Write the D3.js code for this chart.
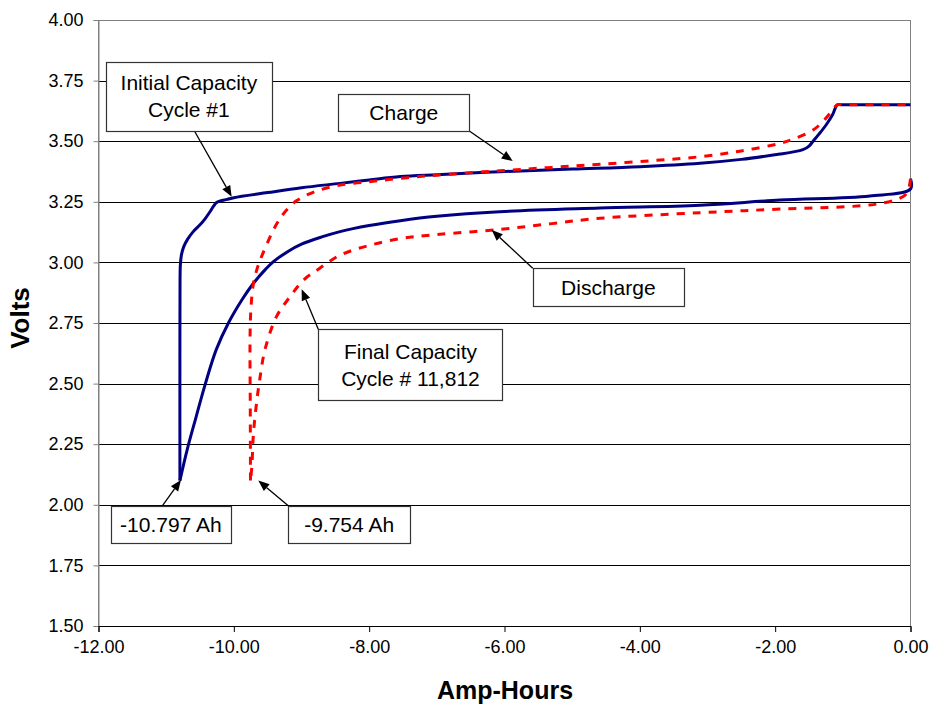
<!DOCTYPE html>
<html>
<head>
<meta charset="utf-8">
<script src="https://cdn.jsdelivr.net/npm/d3@7"></script>
<style>
  html, body { margin: 0; padding: 0; background: #fff; }
  svg { display: block; }
  text { font-family: "Liberation Sans", Arial, sans-serif; }
</style>
</head>
<body>
<svg id="chart" width="929" height="706"></svg>
<script>
// ---------------- DATA ----------------
const xTicks = [-12, -10, -8, -6, -4, -2, 0];
const yTicks = [1.5, 1.75, 2.0, 2.25, 2.5, 2.75, 3.0, 3.25, 3.5, 3.75, 4.0];

// Initial capacity (cycle #1) – charge curve [Ah, V]
const initialCharge = [
  [-10.797, 2.10], [-10.797, 2.60], [-10.795, 2.93], [-10.79, 2.99], [-10.775, 3.03],
  [-10.74, 3.065], [-10.68, 3.097], [-10.60, 3.127], [-10.50, 3.155], [-10.42, 3.182],
  [-10.35, 3.21], [-10.30, 3.232], [-10.26, 3.246], [-10.20, 3.254], [-10.10, 3.26],
  [-10.0, 3.267], [-9.5, 3.288], [-9.0, 3.308], [-8.43, 3.326], [-8.0, 3.340],
  [-7.54, 3.354], [-7.0, 3.362], [-6.07, 3.374], [-5.0, 3.385], [-4.0, 3.395],
  [-3.11, 3.409], [-2.5, 3.425], [-1.93, 3.447], [-1.75, 3.455], [-1.59, 3.465],
  [-1.50, 3.48], [-1.44, 3.50], [-1.35, 3.53], [-1.24, 3.57], [-1.15, 3.61],
  [-1.08, 3.65], [-1.0, 3.65], [-0.9, 3.65], [-0.5, 3.65], [0, 3.65]
];
// Initial capacity (cycle #1) – discharge curve [Ah, V]
const initialDischarge = [
  [0, 3.345], [0, 3.303], [-0.6, 3.274], [-1.93, 3.257], [-3.11, 3.236],
  [-4.59, 3.224], [-6.07, 3.209], [-7.0, 3.19], [-7.54, 3.172], [-8.0, 3.152],
  [-8.43, 3.127], [-8.7, 3.105], [-9.0, 3.075], [-9.2, 3.045], [-9.415, 3.003],
  [-9.56, 2.963], [-9.71, 2.914], [-9.87, 2.85], [-10.08, 2.75], [-10.26, 2.64],
  [-10.42, 2.50], [-10.56, 2.36], [-10.69, 2.227], [-10.797, 2.10]
];
// Final capacity (cycle #11,812) – charge curve [Ah, V]
const finalCharge = [
  [-9.754, 2.10], [-9.757, 2.40], [-9.76, 2.70], [-9.745, 2.82], [-9.71, 2.914],
  [-9.66, 2.97], [-9.61, 3.01], [-9.52, 3.07], [-9.415, 3.134], [-9.32, 3.18],
  [-9.22, 3.216], [-9.07, 3.255], [-8.82, 3.29], [-8.45, 3.318], [-8.0, 3.333],
  [-7.54, 3.347], [-7.0, 3.36], [-6.07, 3.378], [-5.3, 3.392], [-4.59, 3.405],
  [-3.8, 3.42], [-3.11, 3.436], [-2.5, 3.46], [-1.93, 3.491], [-1.74, 3.508],
  [-1.44, 3.546], [-1.30, 3.58], [-1.19, 3.615], [-1.08, 3.65], [-1.0, 3.65],
  [-0.9, 3.65], [-0.5, 3.65], [0, 3.65]
];
// Final capacity (cycle #11,812) – discharge curve [Ah, V]
const finalDischarge = [
  [0, 3.345], [-0.03, 3.30], [-0.08, 3.278], [-0.23, 3.257], [-0.60, 3.237],
  [-1.93, 3.22], [-3.11, 3.205], [-4.59, 3.182], [-5.3, 3.16], [-6.07, 3.136],
  [-7.0, 3.115], [-7.5, 3.1], [-8.0, 3.07], [-8.43, 3.03], [-8.73, 2.976],
  [-8.97, 2.927], [-9.17, 2.858], [-9.37, 2.776], [-9.54, 2.64], [-9.61, 2.53],
  [-9.66, 2.43], [-9.71, 2.295], [-9.734, 2.157], [-9.754, 2.10]
];

// Annotation texts
const noteLabels = [
  ["Initial Capacity", "Cycle #1"],
  ["Charge"],
  ["Discharge"],
  ["Final Capacity", "Cycle # 11,812"],
  ["-10.797 Ah"],
  ["-9.754 Ah"]
];

// ---------------- LAYOUT (data units, placed through the scales) ----------------
const noteLayout = [
  { box: [-11.889, 3.826, -9.440, 3.543], from: [-10.584, 3.543], to: [-10.032, 3.271] },
  { box: [-8.456, 3.694, -6.520, 3.542],  from: [-6.520, 3.542],  to: [-5.879, 3.418] },
  { box: [-5.583, 2.976, -3.347, 2.821],  from: [-5.583, 2.976],  to: [-6.189, 3.134] },
  { box: [-8.752, 2.724, -6.027, 2.430],  from: [-8.752, 2.724],  to: [-8.997, 2.889] },
  { box: [-11.820, 1.996, -10.042, 1.845], from: [-11.057, 1.996], to: [-10.781, 2.102] },
  { box: [-9.195, 1.996, -7.397, 1.845],  from: [-9.195, 1.996],  to: [-9.638, 2.100] }
];

const plot = { left: 98.5, right: 910.5, top: 20, bottom: 626 };
const svg = d3.select("#chart");

const x = d3.scaleLinear().domain([-12, 0]).range([plot.left, plot.right]);
const y = d3.scaleLinear().domain([1.5, 4.0]).range([plot.bottom, plot.top]);
const fmt = d => d.toFixed(2);

// Gridlines
svg.append("g")
  .selectAll("line")
  .data(yTicks.filter(d => d > 1.5 && d < 4.0))
  .join("line")
  .attr("x1", plot.left).attr("x2", plot.right)
  .attr("y1", d => Math.round(y(d)) + 0.5).attr("y2", d => Math.round(y(d)) + 0.5)
  .attr("stroke", "#000").attr("stroke-width", 1);

// Plot frame
svg.append("rect")
  .attr("x", plot.left).attr("y", Math.round(plot.top) + 0.5)
  .attr("width", plot.right - plot.left).attr("height", plot.bottom - plot.top)
  .attr("fill", "none").attr("stroke", "#808080").attr("stroke-width", 1);

// Y axis
const yAxis = d3.axisLeft(y).tickValues(yTicks).tickFormat(fmt).tickSize(5).tickPadding(10);
const gy = svg.append("g").attr("transform", `translate(${plot.left},0)`).call(yAxis);
gy.select(".domain").attr("stroke", "#808080");
gy.selectAll(".tick line").attr("stroke", "#808080");
gy.selectAll("text").attr("font-size", 18).attr("fill", "#000")
  .style("font-family", '"Liberation Sans", Arial, sans-serif');

// X axis
const xAxis = d3.axisBottom(x).tickValues(xTicks).tickFormat(fmt).tickSize(6).tickPadding(8);
const gx = svg.append("g").attr("transform", `translate(0,${plot.bottom})`).call(xAxis);
gx.select(".domain").attr("stroke", "#000");
gx.selectAll(".tick line").attr("stroke", "#000");
gx.selectAll("text").attr("font-size", 18).attr("fill", "#000")
  .style("font-family", '"Liberation Sans", Arial, sans-serif');

// Axis titles
svg.append("text")
  .attr("x", 505).attr("y", 699)
  .attr("text-anchor", "middle").attr("font-size", 25).attr("font-weight", "bold")
  .text("Amp-Hours");
svg.append("text")
  .attr("transform", "translate(29,318) rotate(-90)")
  .attr("text-anchor", "middle").attr("font-size", 26).attr("font-weight", "bold")
  .text("Volts");

// Lines
const line = d3.line().x(d => x(d[0])).y(d => y(d[1])).curve(d3.curveCatmullRom.alpha(0.5));
const g = svg.append("g");
[initialCharge, initialDischarge].forEach(data => {
  g.append("path").datum(data).attr("d", line)
    .attr("fill", "none").attr("stroke", "#000080").attr("stroke-width", 3)
    .attr("stroke-linejoin", "round");
});
[finalCharge, finalDischarge].forEach(data => {
  g.append("path").datum(data).attr("d", line)
    .attr("fill", "none").attr("stroke", "#ff0000").attr("stroke-width", 3)
    .attr("stroke-dasharray", "8,8");
});

// Annotations
const notes = svg.append("g");
noteLabels.forEach((lines, i) => {
  const L = noteLayout[i];
  const x1 = x(L.box[0]), y1 = y(L.box[1]), x2 = x(L.box[2]), y2 = y(L.box[3]);
  const fx = x(L.from[0]), fy = y(L.from[1]), tx = x(L.to[0]), ty = y(L.to[1]);
  const ang = Math.atan2(ty - fy, tx - fx);
  const hl = 11, hw = 4.5;
  const bx = tx - hl * Math.cos(ang), by = ty - hl * Math.sin(ang);
  notes.append("line")
    .attr("x1", fx).attr("y1", fy).attr("x2", bx).attr("y2", by)
    .attr("stroke", "#000").attr("stroke-width", 1.3);
  notes.append("path")
    .attr("d", `M${tx},${ty}L${bx + hw * Math.sin(ang)},${by - hw * Math.cos(ang)}L${bx - hw * Math.sin(ang)},${by + hw * Math.cos(ang)}Z`)
    .attr("fill", "#000");
  notes.append("rect")
    .attr("x", Math.round(x1) + 0.5).attr("y", Math.round(y1) + 0.5)
    .attr("width", Math.round(x2 - x1)).attr("height", Math.round(y2 - y1))
    .attr("fill", "#fff").attr("stroke", "#333").attr("stroke-width", 1.2);
  const cx = (x1 + x2) / 2, cy = (y1 + y2) / 2;
  const lh = 27;
  lines.forEach((t, k) => {
    notes.append("text")
      .attr("x", cx)
      .attr("y", cy + (k - (lines.length - 1) / 2) * lh + 7.5)
      .attr("text-anchor", "middle").attr("font-size", 21).attr("fill", "#000")
      .text(t);
  });
});
</script>
</body>
</html>
